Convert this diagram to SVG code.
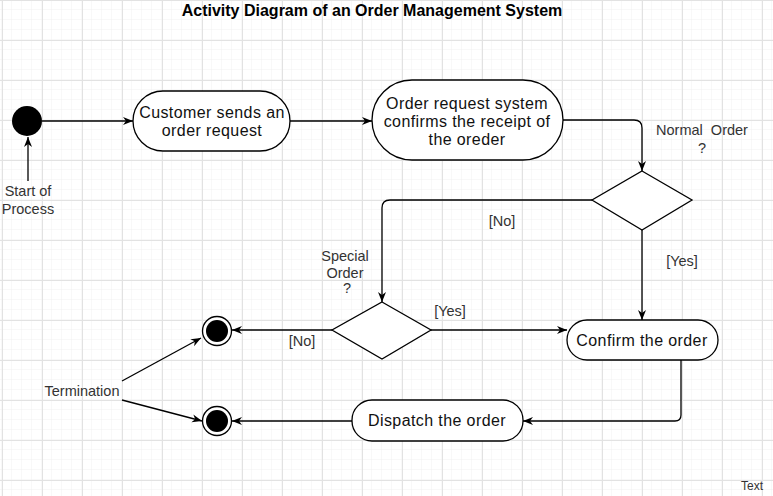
<svg xmlns="http://www.w3.org/2000/svg" width="773" height="496" viewBox="0 0 773 496">
<defs>
<pattern id="minor" x="2" y="0" width="10" height="10" patternUnits="userSpaceOnUse">
<path d="M10,0 V10 M0,10 H10" fill="none" stroke="#f1f1f1" stroke-width="1"/>
</pattern>
<pattern id="major" x="2" y="0" width="40" height="40" patternUnits="userSpaceOnUse">
<path d="M0.5,0 V40 M0,0.5 H40" fill="none" stroke="#e2e2e2" stroke-width="1"/>
</pattern>
<marker id="arr" viewBox="0 0 10 10" refX="10" refY="5" markerWidth="10" markerHeight="10" markerUnits="userSpaceOnUse" orient="auto">
<path d="M0,1 L10,5 L0,9 L3,5 Z" fill="#000"/>
</marker>
<style>
.node{fill:#fff;stroke:#000;stroke-width:1.3}
.nt{font-family:"Liberation Sans",Arial,sans-serif;font-size:16px;letter-spacing:0.4px;fill:#111;text-anchor:middle}
.lbl{font-family:"Liberation Sans",Arial,sans-serif;font-size:14.5px;fill:#333;text-anchor:middle}
.conn{fill:none;stroke:#000;stroke-width:1.3;marker-end:url(#arr)}
.plain{fill:none;stroke:#000;stroke-width:1.3}
</style>
</defs>
<rect width="773" height="496" fill="#fff"/>
<rect width="773" height="496" fill="url(#minor)"/>
<rect width="773" height="496" fill="url(#major)"/>

<text x="372" y="16" font-family="Liberation Sans, Arial, sans-serif" font-size="16" font-weight="bold" text-anchor="middle" fill="#000">Activity Diagram of an Order Management System</text>

<g id="connectors">
<path class="conn" d="M42,121 H133"/>
<path class="conn" d="M28,181 V137"/>
<path class="conn" d="M290,121 H372"/>
<path class="conn" d="M563,120 H634 Q642,120 642,128 V171"/>
<path class="conn" d="M592,200 H390 Q382,200 382,208 V302"/>
<path class="conn" d="M642,230 V320"/>
<path class="conn" d="M431,330 H567"/>
<path class="conn" d="M332,330 H232"/>
<path class="conn" d="M681,360 V415 Q681,421 675,421 H523"/>
<path class="conn" d="M352,421 H232"/>
<path class="conn" d="M122,381 L201,338"/>
<path class="conn" d="M122,400 L202,421"/>
</g>

<g id="start">
<circle cx="27" cy="121" r="15" fill="#000"/>
</g>
<g id="startLabel">
<text class="lbl" x="28" y="196">Start of</text>
<text class="lbl" x="28" y="214">Process</text>
</g>

<g id="customer">
<rect class="node" x="133" y="91" width="157" height="60" rx="30" ry="30"/>
<text class="nt" x="212" y="118">Customer sends an</text>
<text class="nt" x="212" y="136">order request</text>
</g>

<g id="orderSystem">
<rect class="node" x="372" y="80" width="191" height="80" rx="40" ry="40"/>
<text class="nt" x="467" y="109">Order request system</text>
<text class="nt" x="467" y="127">confirms the receipt of</text>
<text class="nt" x="467" y="145">the oreder</text>
</g>

<g id="normalLabel">
<text class="lbl" x="702" y="135" xml:space="preserve">Normal  Order</text>
<text class="lbl" x="702" y="153">?</text>
</g>

<g id="decision1">
<polygon class="node" points="642,171 692,200 642,230 592,200"/>
</g>

<g id="decision2">
<polygon class="node" points="382,302 431,330 382,359 332,330"/>
</g>

<g id="specialLabel">
<text class="lbl" x="345" y="261">Special</text>
<text class="lbl" x="345" y="278">Order</text>
<text class="lbl" x="347" y="293" font-size="11">?</text>
</g>

<g id="edgeLabels">
<text class="lbl" x="502" y="226">[No]</text>
<text class="lbl" x="682" y="266">[Yes]</text>
<text class="lbl" x="450" y="316">[Yes]</text>
<text class="lbl" x="302" y="346">[No]</text>
</g>

<g id="confirm">
<rect class="node" x="567" y="320" width="151" height="40" rx="20" ry="20"/>
<text class="nt" x="642" y="346">Confirm the order</text>
</g>

<g id="dispatch">
<rect class="node" x="352" y="400" width="171" height="41" rx="20" ry="20"/>
<text class="nt" x="437" y="426">Dispatch the order</text>
</g>

<g id="end1">
<circle cx="217" cy="331" r="14.5" fill="#fff" stroke="#000" stroke-width="1.3"/>
<circle cx="217" cy="331" r="11" fill="#000"/>
</g>

<g id="end2">
<circle cx="217" cy="421" r="14.5" fill="#fff" stroke="#000" stroke-width="1.3"/>
<circle cx="217" cy="421" r="11" fill="#000"/>
</g>

<g id="termination">
<text class="lbl" x="82" y="396">Termination</text>
</g>

<text x="752" y="490" font-family="Liberation Sans, Arial, sans-serif" font-size="12" fill="#333" text-anchor="middle">Text</text>
</svg>
